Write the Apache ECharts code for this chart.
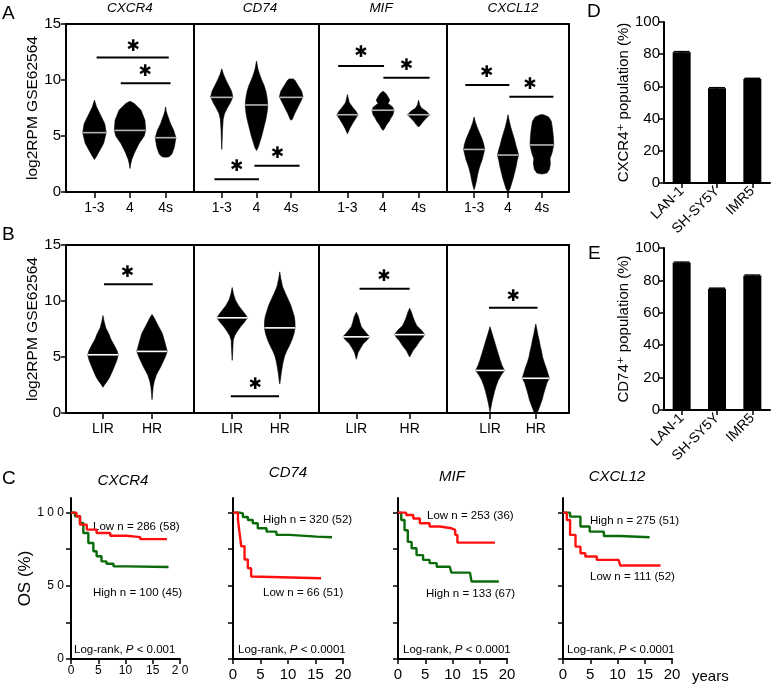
<!DOCTYPE html>
<html><head><meta charset="utf-8">
<script src="https://cdn.jsdelivr.net/npm/echarts@6/dist/echarts.min.js"></script>
<style>html,body{margin:0;padding:0;background:#fff}#c{width:777px;height:686px}</style>
</head><body><div id="c"></div>
<script>
// ---------------- DATA ----------------
const genes = ['CXCR4', 'CD74', 'MIF', 'CXCL12'];
const stageCats = ['1-3', '4', '4s'];
const riskCats = ['LIR', 'HR'];
const stagePos = [-1, 0, 1];
const riskPos = [[-0.76, 0.62], [-0.7, 0.67], [-0.75, 0.75], [-0.53, 0.82]];
const violinYTicks = [0, 5, 10, 15];

// violin outlines: [log2RPM value, half-width in category units]
const vA_CXCR4 = [
  [[8.2,0],[7.6,0.06],[7.0,0.15],[6.1,0.29],[5.3,0.33],[4.35,0.26],[3.6,0.13],[3.2,0.06],[2.9,0]],
  [[8.1,0],[7.9,0.12],[7.3,0.31],[6.4,0.42],[5.5,0.44],[5.0,0.4],[4.35,0.26],[3.8,0.17],[3.45,0.12],[2.9,0.05],[2.5,0.02],[2.1,0]],
  [[7.6,0],[7.2,0.02],[6.9,0.05],[6.1,0.14],[5.5,0.23],[4.85,0.29],[4.05,0.25],[3.4,0.18],[3.15,0.1],[3.1,0]]
];
const vA_CD74 = [
  [[11.0,0],[10.5,0.05],[10.0,0.12],[9.5,0.2],[9.0,0.28],[8.5,0.32],[8.0,0.25],[7.5,0.16],[7.0,0.08],[6.5,0.04],[5.5,0.02],[4.5,0.01],[3.8,0]],
  [[11.7,0],[11.0,0.04],[10.5,0.09],[10.0,0.15],[9.5,0.22],[9.0,0.27],[8.5,0.3],[8.0,0.32],[7.5,0.32],[7.0,0.3],[6.5,0.27],[6.0,0.23],[5.5,0.19],[5.0,0.15],[4.5,0.1],[4.0,0.05],[3.7,0]],
  [[10.1,0.06],[10.0,0.1],[9.5,0.2],[9.0,0.3],[8.5,0.34],[8.0,0.26],[7.5,0.18],[7.0,0.1],[6.5,0.03],[6.4,0]]
];
const vA_MIF = [
  [[8.7,0],[8.0,0.05],[7.6,0.14],[7.2,0.24],[6.9,0.3],[6.6,0.24],[6.1,0.14],[5.7,0.07],[5.2,0]],
  [[9.0,0],[8.8,0.08],[8.5,0.14],[8.2,0.19],[7.9,0.14],[7.6,0.27],[7.3,0.31],[6.9,0.28],[6.6,0.22],[6.3,0.17],[6.0,0.1],[5.7,0.05],[5.5,0]],
  [[8.2,0],[7.8,0.03],[7.5,0.08],[7.2,0.22],[6.9,0.31],[6.6,0.22],[6.3,0.13],[6.0,0.06],[5.8,0]]
];
const vA_CXCL12 = [
  [[6.7,0],[6.2,0.04],[5.7,0.1],[5.2,0.17],[4.7,0.24],[4.2,0.29],[3.8,0.31],[3.4,0.28],[2.9,0.24],[2.4,0.18],[2.0,0.14],[1.5,0.1],[1.0,0.07],[0.5,0.03],[0.2,0]],
  [[6.9,0],[6.3,0.04],[5.8,0.08],[5.2,0.14],[4.7,0.19],[4.2,0.23],[3.7,0.28],[3.3,0.31],[2.8,0.27],[2.3,0.24],[1.8,0.2],[1.3,0.16],[0.8,0.11],[0.3,0.06],[0.0,0]],
  [[6.9,0.05],[6.7,0.2],[6.3,0.28],[5.5,0.32],[4.8,0.34],[4.2,0.35],[3.5,0.3],[3.0,0.24],[2.5,0.25],[2.0,0.22],[1.7,0.15],[1.6,0]]
];
const vB_CXCR4 = [
  [[8.7,0],[8.2,0.03],[7.6,0.08],[7.1,0.16],[6.6,0.22],[6.2,0.29],[5.6,0.39],[5.2,0.43],[4.7,0.39],[4.0,0.3],[3.2,0.19],[2.8,0.11],[2.5,0.04],[2.3,0]],
  [[8.8,0],[8.5,0.06],[8.0,0.14],[7.1,0.29],[6.2,0.37],[5.5,0.43],[5.0,0.37],[4.5,0.3],[4.1,0.24],[3.4,0.12],[2.8,0.06],[2.3,0.03],[1.2,0]]
];
const vB_CD74 = [
  [[11.2,0],[10.6,0.04],[10.1,0.09],[9.6,0.18],[9.2,0.28],[8.8,0.38],[8.5,0.44],[8.1,0.35],[7.7,0.24],[7.3,0.15],[6.9,0.07],[6.5,0.03],[5.5,0.015],[4.7,0]],
  [[12.6,0],[12.0,0.03],[11.3,0.08],[10.7,0.16],[10.1,0.25],[9.6,0.32],[9.1,0.37],[8.6,0.42],[8.1,0.44],[7.6,0.44],[7.1,0.41],[6.6,0.36],[6.1,0.29],[5.6,0.21],[5.1,0.14],[4.6,0.1],[4.1,0.07],[3.5,0.04],[3.0,0.02],[2.6,0]]
];
const vB_MIF = [
  [[9.0,0],[8.6,0.06],[8.1,0.1],[7.7,0.14],[7.3,0.24],[7.0,0.32],[6.8,0.38],[6.5,0.3],[6.2,0.2],[5.8,0.12],[5.4,0.05],[4.8,0]],
  [[9.35,0],[9.0,0.05],[8.6,0.09],[8.2,0.14],[7.8,0.2],[7.5,0.3],[7.2,0.38],[7.0,0.43],[6.7,0.36],[6.4,0.28],[6.0,0.2],[5.6,0.1],[5.0,0]]
];
const vB_CXCL12 = [
  [[7.7,0],[7.2,0.05],[6.7,0.1],[6.2,0.15],[5.7,0.2],[5.2,0.25],[4.7,0.3],[4.2,0.36],[3.8,0.43],[3.4,0.33],[2.9,0.24],[2.4,0.18],[1.9,0.13],[1.4,0.09],[0.9,0.05],[0.4,0.02],[0.1,0]],
  [[7.95,0],[7.5,0.03],[7.0,0.06],[6.5,0.1],[6.0,0.13],[5.5,0.17],[5.0,0.2],[4.5,0.25],[4.0,0.31],[3.5,0.36],[3.1,0.4],[2.7,0.33],[2.2,0.28],[1.7,0.23],[1.2,0.19],[0.7,0.13],[0.3,0.08],[0.0,0.04]]
];
const medianA = [[5.3,5.5,4.85],[8.45,7.77,8.45],[6.9,7.3,6.9],[3.8,3.3,4.2]];
const medianB = [[5.2,5.5],[8.5,7.6],[6.8,7.0],[3.8,3.1]];

// significance: [x1, x2, y, asteriskX, asteriskY]
const sigA = [
  [[-0.94,1.09,12.0,0.09,13.0],[-0.26,1.14,9.7,0.43,10.7]],
  [[-1.21,0.07,1.13,-0.57,2.26],[-0.06,1.24,2.35,0.6,3.45]],
  [[-1.26,0.03,11.25,-0.62,12.4],[0.01,1.31,10.2,0.66,11.3]],
  [[-1.26,0.04,9.55,-0.63,10.6],[0.04,1.34,8.5,0.65,9.55]]
];
const sigB = [
  [[-0.73,0.64,11.5,-0.07,12.5]],
  [[-0.74,0.65,1.5,-0.04,2.5]],
  [[-0.66,0.75,11.1,0.03,12.2]],
  [[-0.56,0.87,9.4,0.15,10.4]]
];

// Kaplan-Meier curves: [years, OS %]
const km_CXCR4_low  = [[0,100],[1.0,97.5],[1.65,91.8],[2.9,88.4],[4.7,86.1],[7.2,84.2],[10.2,83.3],[12.7,81.9],[17.6,81.5]];
const km_CXCR4_high = [[0,100],[0.73,97.5],[1.65,92.9],[2.26,86.1],[3.18,79.3],[4.1,73.6],[4.7,70.2],[5.6,66.7],[6.5,65.1],[7.8,63.3],[10.2,62.9],[17.9,62.9]];
const km_CD74_high  = [[0,100],[1.2,99.5],[1.8,97],[2.7,95],[3.6,92.7],[4.5,89.3],[6.1,87],[7.9,84.8],[10.3,83.6],[15.2,83.2],[18,83.2]];
const km_CD74_low   = [[0,100],[0.9,95],[1.2,86],[1.5,77],[2.1,68],[2.7,62],[3.3,56.4],[3.6,55.2],[16,55.2]];
const km_MIF_low    = [[0,100],[1.5,98.4],[2.8,96],[4,92.7],[5.8,90.5],[7.7,89.3],[9.8,88.2],[10.5,84.8],[10.9,79.5],[17.8,79.5]];
const km_MIF_high   = [[0,100],[0.6,95],[1.2,88],[1.8,80],[2.5,75.7],[3.4,71],[4.6,67.7],[5.8,65.5],[7.1,63],[9.5,62.7],[9.8,59],[13.2,59],[13.5,53],[18.5,53]];
const km_CXCL12_high= [[0,100],[1.3,97.3],[3.2,90.5],[4.9,87],[7.5,84],[10.5,83.2],[15.9,83.2]];
const km_CXCL12_low = [[0,100],[0.7,95],[1.3,84.8],[2.3,76.8],[3.2,72.3],[4.1,70],[6.2,67.7],[10.2,66.6],[10.5,63.9],[17.9,63.9]];
const kmLegend = [
  ['Low n = 286 (58)', 'High n = 100 (45)', 'Log-rank, {i|P} < 0.001'],
  ['High n = 320 (52)', 'Low n = 66 (51)', 'Log-rank, {i|P} < 0.0001'],
  ['Low n = 253 (36)', 'High n = 133 (67)', 'Log-rank, {i|P} < 0.0001'],
  ['High n = 275 (51)', 'Low n = 111 (52)', 'Log-rank, {i|P} < 0.0001']
];
const kmXTicks = [0, 5, 10, 15, 20];
const kmXLabelsFirst = ['0', '5', '10', '15', '2 0'];
const kmYTickVals = [0, 25, 50, 75, 100];
const kmYLabelVals = [0, 50, 100];
const kmYLabelsFirst = ['0', '5 0', '1 0 0'];

// flow cytometry bars
const cellLines = ['LAN-1', 'SH-SY5Y', 'IMR5'];
const cxcr4Pop = [81.2, 58.8, 64.6];
const cxcr4Err = [0.4, 0.4, 0.4];
const cd74Pop = [90.9, 74.8, 82.9];
const cd74Err = [0.4, 0.4, 0.4];
const barYTicks = [0, 20, 40, 60, 80, 100];

// ---------------- LAYOUT ----------------
const FONT = '"Liberation Sans", Arial, "DejaVu Sans", sans-serif';
const panelLeft = [66, 194, 319, 447], panelW = [128, 125, 128, 122];
const kmLeft = [71, 233, 398, 563], kmW = [109, 110, 109, 109];
const RED = '#ff1010', GREEN = '#0b6b0b';

const grid = [], xAxis = [], yAxis = [], series = [];

function interpW(prof, v) {
  for (let k = 0; k < prof.length - 1; k++) {
    const [v1, w1] = prof[k], [v2, w2] = prof[k + 1];
    if (v <= v1 && v >= v2) { const t = (v1 - v) / ((v1 - v2) || 1); return w1 + (w2 - w1) * t; }
  }
  return 0;
}

function violinPanel(gi, top, left, width, cats, pos, showY) {
  grid.push({left, top, width, height: 168, show: true, borderColor: '#000', borderWidth: 2, outerBoundsMode: 'none'});
  xAxis.push({gridIndex: gi, type: 'value', min: -1.8, max: 1.8,
    axisLine: {show: true, onZero: false, lineStyle: {color: '#000', width: 2}},
    axisTick: {show: true, customValues: pos, length: 6, lineStyle: {color: '#000', width: 1.5}},
    axisLabel: {show: true, customValues: pos, color: '#000', fontSize: 14, fontFamily: FONT, margin: 9,
      formatter: v => { const k = pos.findIndex(p => Math.abs(p - v) < 1e-6); return k >= 0 ? cats[k] : ''; }},
    splitLine: {show: false}});
  yAxis.push({gridIndex: gi, type: 'value', min: 0, max: 15, interval: 5, show: showY,
    name: showY ? 'log2RPM GSE62564' : '', nameLocation: 'middle', nameGap: 24,
    nameTextStyle: {fontSize: 15.5, fontFamily: FONT, color: '#000'},
    axisLine: {show: true, onZero: false, lineStyle: {color: '#000', width: 2}},
    axisTick: {show: true, length: 5, lineStyle: {color: '#000', width: 1.5}},
    axisLabel: {color: '#000', fontSize: 15, fontFamily: FONT, margin: 5},
    splitLine: {show: false}});
}

function addViolins(gi, profiles, medians, pos, medColor) {
  series.push({type: 'custom', xAxisIndex: gi, yAxisIndex: gi, silent: true, clip: false,
    data: pos.map((p, i) => [p, medians[i]]),
    renderItem(params, api) {
      const i = params.dataIndex, prof = profiles[i], cx = pos[i];
      const pts = prof.map(([v, w]) => api.coord([cx + w, v]))
        .concat(prof.slice().reverse().map(([v, w]) => api.coord([cx - w, v])));
      const m = medians[i], hw = interpW(prof, m);
      const a = api.coord([cx - hw, m]), b = api.coord([cx + hw, m]);
      return {type: 'group', children: [
        {type: 'polygon', shape: {points: pts}, style: {fill: '#000', stroke: '#000', lineWidth: 0.6}},
        {type: 'line', shape: {x1: a[0], y1: a[1], x2: b[0], y2: b[1]}, style: {stroke: medColor, lineWidth: 1.6}}
      ]};
    }});
}

function addSig(gi, sig) {
  series.push({type: 'custom', xAxisIndex: gi, yAxisIndex: gi, silent: true, clip: false, data: sig,
    renderItem(params, api) {
      const s = sig[params.dataIndex];
      const a = api.coord([s[0], s[2]]), b = api.coord([s[1], s[2]]), c = api.coord([s[3], s[4]]);
      return {type: 'group', children: [
        {type: 'line', shape: {x1: a[0], y1: a[1], x2: b[0], y2: b[1]}, style: {stroke: '#000', lineWidth: 2}},
        {type: 'text', style: {x: c[0], y: c[1], text: '\u2731', fill: '#000', font: 'bold 16px "DejaVu Sans"', align: 'center', verticalAlign: 'middle'}}
      ]};
    }});
}

const vA = [vA_CXCR4, vA_CD74, vA_MIF, vA_CXCL12];
const vB = [vB_CXCR4, vB_CD74, vB_MIF, vB_CXCL12];
for (let g = 0; g < 4; g++) {
  violinPanel(g, 24, panelLeft[g], panelW[g], stageCats, stagePos, g === 0);
  addViolins(g, vA[g], medianA[g], stagePos, '#b4b4b4');
  addSig(g, sigA[g]);
}
for (let g = 0; g < 4; g++) {
  const gi = 4 + g;
  violinPanel(gi, 245, panelLeft[g], panelW[g], riskCats, riskPos[g], g === 0);
  addViolins(gi, vB[g], medianB[g], riskPos[g], '#ffffff');
  addSig(gi, sigB[g]);
}

// KM panels
const kmSets = [[km_CXCR4_low, km_CXCR4_high], [km_CD74_low, km_CD74_high], [km_MIF_low, km_MIF_high], [km_CXCL12_low, km_CXCL12_high]];
for (let g = 0; g < 4; g++) {
  const gi = 8 + g, first = g === 0;
  grid.push({left: kmLeft[g], top: 498, width: kmW[g], height: 161, outerBoundsMode: 'none'});
  xAxis.push({gridIndex: gi, type: 'value', min: 0, max: 20, interval: 5,
    axisLine: {onZero: false, lineStyle: {color: '#000', width: 2}},
    axisTick: {show: true, length: 5, lineStyle: {color: '#000', width: 1.5}},
    axisLabel: {color: '#000', fontFamily: FONT, fontSize: first ? 12 : 15, margin: first ? 6 : 8,
      formatter: v => first ? kmXLabelsFirst[kmXTicks.indexOf(v)] : String(v)},
    splitLine: {show: false}});
  yAxis.push({gridIndex: gi, type: 'value', min: 0, max: 110,
    name: first ? 'OS (%)' : '', nameLocation: 'middle', nameGap: 37,
    nameTextStyle: {fontSize: 17, fontFamily: FONT, color: '#000'},
    axisLine: {show: true, onZero: false, lineStyle: {color: '#000', width: 2}},
    axisTick: {show: true, customValues: kmYTickVals, length: 5, lineStyle: {color: '#000', width: 1.5}},
    axisLabel: {show: first, customValues: kmYLabelVals, color: '#000', fontFamily: FONT, fontSize: 12, margin: 7,
      formatter: v => kmYLabelsFirst[kmYLabelVals.indexOf(v)]},
    splitLine: {show: false}});
  const [low, high] = kmSets[g];
  series.push({type: 'line', xAxisIndex: gi, yAxisIndex: gi, data: high, step: 'end', showSymbol: false, silent: true,
    lineStyle: {color: GREEN, width: 2.4}});
  series.push({type: 'line', xAxisIndex: gi, yAxisIndex: gi, data: low, step: 'end', showSymbol: false, silent: true,
    lineStyle: {color: RED, width: 2.4}});
}

// Bar panels D and E
function barPanel(gi, top, height, vals, errs, name) {
  grid.push({left: 664, top, width: 106, height, outerBoundsMode: 'none'});
  xAxis.push({gridIndex: gi, type: 'category', data: cellLines,
    axisLine: {lineStyle: {color: '#000', width: 2}},
    axisTick: {show: true, alignWithLabel: true, length: 5, lineStyle: {color: '#000', width: 1.5}},
    axisLabel: {rotate: 45, interval: 0, color: '#000', fontFamily: FONT, fontSize: 14, margin: 6}});
  yAxis.push({gridIndex: gi, type: 'value', min: 0, max: 100, interval: 20,
    name, nameLocation: 'middle', nameGap: 33,
    nameTextStyle: {fontSize: 15, fontFamily: FONT, color: '#000'},
    axisLine: {show: true, lineStyle: {color: '#000', width: 2}},
    axisTick: {show: true, length: 5, lineStyle: {color: '#000', width: 1.5}},
    axisLabel: {color: '#000', fontFamily: FONT, fontSize: 15, margin: 4},
    splitLine: {show: false}});
  series.push({type: 'bar', xAxisIndex: gi, yAxisIndex: gi, data: vals, barWidth: 18, silent: true,
    itemStyle: {color: '#000'}});
  series.push({type: 'custom', xAxisIndex: gi, yAxisIndex: gi, silent: true,
    data: vals.map((v, i) => [i, v, errs[i]]),
    renderItem(params, api) {
      const x = api.value(0), v = api.value(1), e = api.value(2);
      const t = api.coord([x, v + e]), b = api.coord([x, v - e]);
      return {type: 'group', children: [
        {type: 'line', shape: {x1: t[0], y1: t[1], x2: b[0], y2: b[1]}, style: {stroke: '#000', lineWidth: 1.5}},
        {type: 'line', shape: {x1: t[0] - 8, y1: t[1], x2: t[0] + 8, y2: t[1]}, style: {stroke: '#000', lineWidth: 1.5}}
      ]};
    }});
}
barPanel(12, 22, 161, cxcr4Pop, cxcr4Err, 'CXCR4\u207A population (%)');
barPanel(13, 248, 162, cd74Pop, cd74Err, 'CD74\u207A population (%)');

// ---------------- TEXT ----------------
const graphic = [];
function txt(x, y, text, size, opts = {}) {
  graphic.push({type: 'text', x, y, silent: true, style: Object.assign({text, fill: '#000',
    font: (opts.italic ? 'italic ' : '') + size + 'px ' + FONT,
    align: opts.align || 'center', verticalAlign: 'middle', rich: {i: {fontStyle: 'italic', fontSize: size, fontFamily: FONT}}}, opts.style || {})});
}
txt(2, 14, 'A', 19, {align: 'left'});
txt(2, 235, 'B', 19, {align: 'left'});
txt(2, 479, 'C', 19, {align: 'left'});
txt(587, 12, 'D', 19, {align: 'left'});
txt(588, 254, 'E', 19, {align: 'left'});
const aTitleX = [130, 260, 381, 513];
genes.forEach((g, i) => txt(aTitleX[i], 8, g, 13.5, {italic: true}));
const kmTitlePos = [[123, 481], [288, 473], [452, 477], [617, 477]];
genes.forEach((g, i) => txt(kmTitlePos[i][0], kmTitlePos[i][1], g, 15, {italic: true}));
const kmLegPos = [
  [[93, 527], [93, 593], [74, 650]],
  [[263, 520], [263, 593], [238, 650]],
  [[427, 516], [426, 594], [403, 650]],
  [[590, 521], [590, 577], [567, 650]]
];
kmLegend.forEach((arr, g) => arr.forEach((t, k) => txt(kmLegPos[g][k][0], kmLegPos[g][k][1], t, 11.5, {align: 'left'})));
txt(692, 677, 'years', 15, {align: 'left'});

const chart = echarts.init(document.getElementById('c'), null, {renderer: 'canvas'});
chart.setOption({animation: false, backgroundColor: '#fff', textStyle: {fontFamily: FONT},
  grid, xAxis, yAxis, series, graphic});
</script></body></html>
